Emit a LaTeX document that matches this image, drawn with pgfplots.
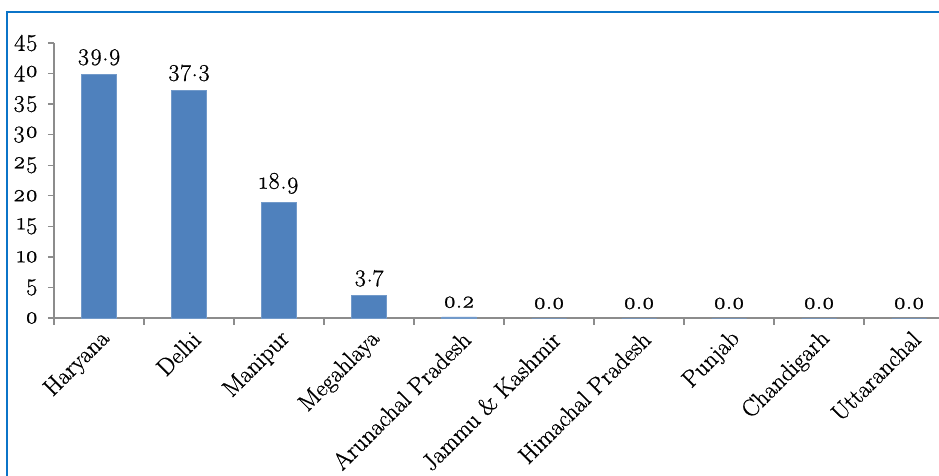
\documentclass[border=0pt]{standalone}
\usepackage{fontspec}
\setmainfont{Latin Modern Roman}[Numbers=OldStyle, FakeBold=0.8]
\usepackage{pgfplots}
\pgfplotsset{compat=1.18}
\definecolor{barblue}{HTML}{4F81BD}
\definecolor{frameblue}{HTML}{0B74C8}
\definecolor{axgray}{HTML}{8C8C8C}
\pgfplotsset{/pgf/number format/assume math mode=true}
\newcommand{\chartfont}{\fontsize{18}{20}\selectfont}
\begin{document}
\begin{tikzpicture}
\begin{axis}[
  scale only axis, width=675pt, height=206.25pt,
  xmin=-0.5, xmax=9.5, ymin=0, ymax=45,
  axis x line=bottom, axis y line=left,
  axis line style={-, axgray, line width=1pt},
  ytick={0,5,...,45},
  xtick={0,...,9},
  xticklabels={Haryana,Delhi,Manipur,Megahlaya,Arunachal Pradesh,Jammu \& Kashmir,Himachal Pradesh,Punjab,Chandigarh,Uttaranchal},
  minor xtick={-0.5,0.5,...,9.5},
  major x tick style={draw=none},
  minor x tick style={axgray, line width=1pt},
  y tick style={axgray, line width=1pt},
  tick align=outside,
  major tick length=4.5pt, minor tick length=5pt,
  xticklabel style={rotate=45, anchor=east, font=\chartfont, inner sep=2pt, xshift=0pt, yshift=-10pt},
  yticklabel style={font=\chartfont, xshift=-4pt},
  ybar, bar width=26.25pt,
  nodes near coords={\pgfmathprintnumber[fixed,fixed zerofill,precision=1]{\pgfplotspointmeta}},
  nodes near coords style={font=\chartfont, black, yshift=3pt},
  clip=false,
]
\addplot[fill=barblue, draw=barblue!80!white] coordinates {
  (0,39.9) (1,37.3) (2,18.9) (3,3.7) (4,0.2)
  (5,0.0) (6,0.0) (7,0.0) (8,0.0) (9,0.0)
};
\end{axis}
\draw[frameblue, line width=1.5pt] (-35.6pt,-300pt) rectangle (900pt,229.5pt);
\pgfresetboundingbox
\useasboundingbox (-40.5pt,-117.75pt) rectangle (663.75pt,238.5pt);
\end{tikzpicture}
\end{document}
